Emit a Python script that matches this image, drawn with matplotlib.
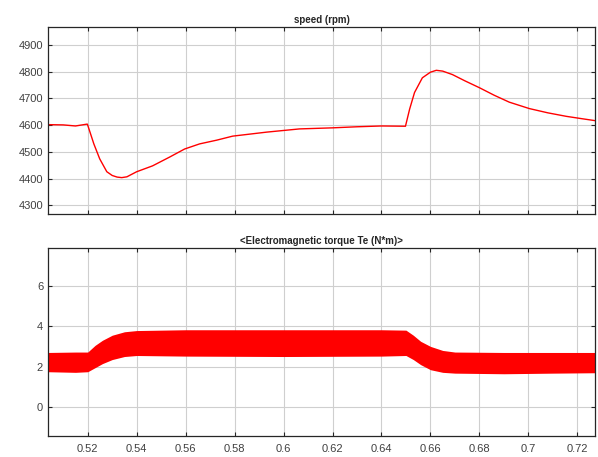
import matplotlib
matplotlib.use("Agg")
import matplotlib.pyplot as plt

plt.rcParams['font.family'] = ['Liberation Sans', 'DejaVu Sans']

# speed (rpm)
t_speed = [0.5038, 0.510, 0.515, 0.5198, 0.5200, 0.5225, 0.5249, 0.5278, 0.5300,
           0.5320, 0.5339, 0.5360, 0.5400, 0.5465, 0.5535, 0.5596, 0.5657,
           0.5727, 0.5792, 0.5931, 0.6065, 0.6200, 0.6300, 0.6400, 0.6498,
           0.6515, 0.6535, 0.6567, 0.6600, 0.6624, 0.6650, 0.6690, 0.6740,
           0.6800, 0.6860, 0.6922, 0.7004, 0.7080, 0.7155, 0.7220, 0.7272]
speed = [4602, 4601, 4597, 4604, 4600, 4530, 4474, 4426, 4412,
         4406, 4404, 4407, 4426, 4448, 4481, 4511, 4530,
         4544, 4559, 4574, 4586, 4590, 4594, 4597, 4596,
         4660, 4722, 4777, 4798, 4805, 4802, 4789, 4766,
         4740, 4712, 4686, 4662, 4646, 4633, 4624, 4617]

# electromagnetic torque ripple envelope
t_te = [0.5038, 0.5150, 0.5200, 0.5230, 0.5260, 0.5300, 0.5350, 0.5400,
        0.5600, 0.6000, 0.6400, 0.6500, 0.6530, 0.6560, 0.6600, 0.6650,
        0.6700, 0.6900, 0.7100, 0.7272]
te_hi = [2.70, 2.72, 2.72, 3.05, 3.30, 3.55, 3.72, 3.78,
         3.82, 3.82, 3.82, 3.80, 3.55, 3.25, 3.00, 2.80,
         2.72, 2.70, 2.70, 2.70]
te_lo = [1.75, 1.72, 1.75, 1.95, 2.15, 2.35, 2.50, 2.55,
         2.52, 2.50, 2.52, 2.55, 2.35, 2.10, 1.85, 1.72,
         1.68, 1.65, 1.68, 1.70]

xticks = [0.52, 0.54, 0.56, 0.58, 0.6, 0.62, 0.64, 0.66, 0.68, 0.7, 0.72]
xlabels = ['0.52', '0.54', '0.56', '0.58', '0.6', '0.62', '0.64', '0.66', '0.68', '0.7', '0.72']

fig = plt.figure(figsize=(5.98, 4.57), dpi=100)
ax1 = fig.add_axes([0.0803, 0.5317, 0.9147, 0.4099])
ax2 = fig.add_axes([0.0803, 0.0459, 0.9147, 0.4114])


def style(ax):
    ax.grid(True, color='#cfcfcf', linewidth=0.8)
    ax.set_axisbelow(True)
    ax.tick_params(direction='in', length=3, width=0.8, top=True, right=True,
                   labelsize=8, colors='#262626', labelcolor='#404040')
    for s in ax.spines.values():
        s.set_color('#262626')
        s.set_linewidth(0.9)
    ax.set_xticks(xticks)
    ax.set_xlim(0.50378, 0.72723)


ax1.plot(t_speed, speed, color='red', linewidth=1.0)
style(ax1)
ax1.set_xticklabels([])
ax1.set_ylim(4268, 4968)
ax1.set_yticks([4300, 4400, 4500, 4600, 4700, 4800, 4900])
ax1.set_title('speed (rpm)', fontsize=7, fontweight='bold', pad=3, color='#262626')

ax2.fill_between(t_te, te_lo, te_hi, color='red', linewidth=0)
style(ax2)
ax2.set_xticklabels(xlabels)
ax2.set_ylim(-1.42, 7.85)
ax2.set_yticks([0, 2, 4, 6])
ax2.set_title('<Electromagnetic torque Te (N*m)>', fontsize=7, fontweight='bold', pad=3, color='#262626')
ax2.tick_params(axis='x', pad=6)

fig.savefig('out.png', dpi=100)
